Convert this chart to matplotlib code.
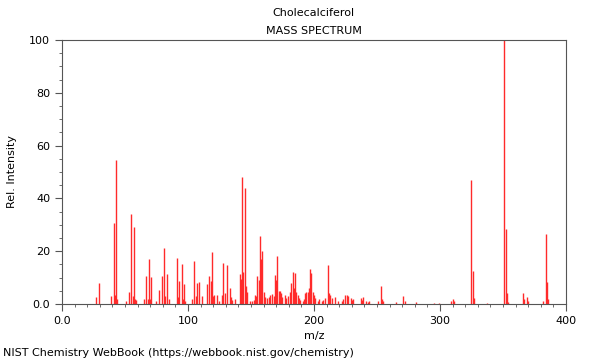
import matplotlib
matplotlib.use("Agg")
import matplotlib.pyplot as plt
from matplotlib.ticker import MultipleLocator

mz = [27, 29, 39, 41, 42, 43, 44, 51, 53, 55, 56, 57, 58, 59,
      65, 67, 68, 69, 70, 71, 75, 77, 79, 81, 82, 83, 85,
      91, 92, 93, 95, 96, 97, 98, 103, 105, 106, 107, 109, 111,
      115, 117, 118, 119, 120, 121, 123, 125, 127, 128, 129, 131, 133, 134, 135, 137,
      141, 142, 143, 144, 145, 146, 147, 149, 151, 152, 153, 154, 155, 156, 157, 158, 159,
      160, 161, 163, 164, 165, 167, 168, 169, 170, 171, 172, 173, 174, 175, 177, 178, 179,
      181, 182, 183, 184, 185, 186, 187, 188, 189, 191, 192, 193, 194, 195, 196, 197, 198, 199,
      200, 201, 203, 204, 206, 207, 209, 211, 212, 213, 214, 217, 219,
      222, 223, 225, 226, 227, 229, 230, 231, 237, 238, 239, 241, 243, 244,
      251, 253, 254, 255, 265, 271, 272, 281, 295, 299,
      309, 310, 311, 325, 326, 327, 337, 351, 352, 353, 354,
      366, 367, 369, 370, 382, 384, 385, 386]
intensidade = [2.8, 8.1, 3.0, 30.5, 3.4, 54.5, 2.0, 1.0, 4.7, 34.0, 3.0, 29.0, 2.0, 1.5,
               2.0, 10.6, 2.0, 17.0, 2.0, 10.3, 1.0, 5.2, 10.6, 21.3, 3.0, 11.2, 2.0,
               17.3, 2.5, 8.8, 15.0, 2.0, 7.6, 1.0, 2.0, 16.3, 3.0, 8.1, 8.2, 3.2,
               7.6, 10.6, 8.7, 19.6, 3.0, 3.5, 3.3, 1.0, 3.3, 15.4, 4.3, 14.7, 6.2, 2.5, 1.5, 2.0,
               11.4, 9.3, 48.0, 12.2, 44.0, 6.8, 4.5, 1.3, 1.3, 1.5, 3.4, 3.0, 10.6, 9.1, 25.9, 17.0, 20.2,
               4.7, 2.8, 2.2, 2.8, 3.4, 3.9, 3.0, 11.0, 9.0, 18.2, 5.0, 5.0, 4.0, 2.8, 3.4, 2.2, 3.0,
               4.7, 8.0, 12.0, 5.9, 11.8, 4.7, 3.4, 2.2, 1.5, 1.3, 2.0, 4.0, 4.7, 4.7, 6.0, 13.1, 11.6, 4.7,
               3.4, 2.2, 1.2, 1.7, 1.0, 1.5, 2.2, 14.8, 4.3, 3.4, 2.2, 2.8, 1.0,
               1.3, 2.0, 3.4, 3.3, 3.0, 2.2, 1.5, 1.7, 2.2, 1.5, 2.8, 1.0, 0.8, 1.1,
               1.0, 6.9, 2.0, 1.0, 0.8, 3.0, 1.0, 0.8, 0.5, 0.5,
               1.3, 2.0, 1.0, 47.0, 12.6, 2.4, 0.5, 100.0, 28.3, 4.0, 0.8,
               4.0, 1.8, 2.8, 1.0, 1.0, 26.5, 8.3, 2.0]

composto = "Cholecalciferol"
fonte = "NIST Chemistry WebBook (https://webbook.nist.gov/chemistry)"
rotulos_x = ["0.0", "100", "200", "300", "400"]
rotulos_y = ["0.0", "20", "40", "60", "80", "100"]

fig = plt.figure(figsize=(6, 3.6), dpi=100)
ax = fig.add_axes([0.1033, 0.1556, 0.84, 0.7333])

ax.vlines(mz, 0, intensidade, color="#ff2a2a", linewidth=1.0)

ax.set_xlim(0, 400)
ax.set_ylim(0, 100)
ax.xaxis.set_minor_locator(MultipleLocator(10))
ax.yaxis.set_minor_locator(MultipleLocator(5))
ax.set_xticks([0, 100, 200, 300, 400])
ax.set_xticklabels(rotulos_x)
ax.set_yticks([0, 20, 40, 60, 80, 100])
ax.set_yticklabels(rotulos_y)
ax.tick_params(which="major", length=5, labelsize=8, color="#555555")
ax.tick_params(which="minor", length=2.5, color="#555555")
for s in ax.spines.values():
    s.set_color("#555555")

ax.set_xlabel("m/z", fontsize=8)
ax.set_ylabel("Rel. Intensity", fontsize=8, labelpad=9)

fig.text(0.523, 0.963, composto, ha="center", va="center", fontsize=8)
fig.text(0.523, 0.915, "MASS SPECTRUM", ha="center", va="center", fontsize=8)
fig.text(0.005, 0.02, fonte, ha="left", va="center", fontsize=8)

fig.savefig("out.png", dpi=100)
